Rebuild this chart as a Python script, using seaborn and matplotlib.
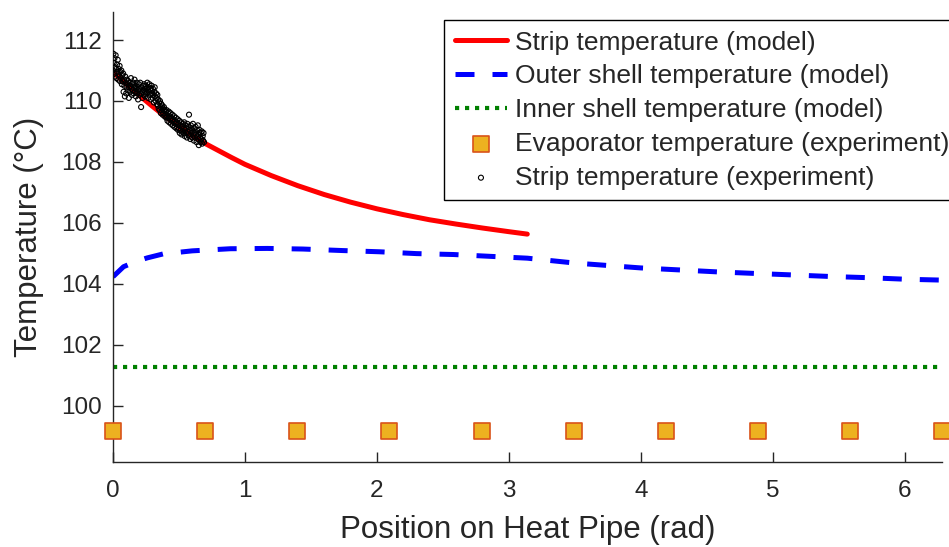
import seaborn as sns
import matplotlib.pyplot as plt

# model curves
strip_x = [0.0, 0.1, 0.2, 0.3, 0.4, 0.5, 0.6, 0.7, 0.8, 0.9, 1.0, 1.2, 1.4, 1.6,
           1.8, 2.0, 2.2, 2.4, 2.6, 2.8, 3.0, 3.14]
strip_y = [110.95, 110.56, 110.18, 109.82, 109.48, 109.16, 108.86, 108.60, 108.37,
           108.14, 107.92, 107.55, 107.22, 106.93, 106.68, 106.46, 106.27, 106.10,
           105.96, 105.83, 105.71, 105.63]

outer_x = [0.0, 0.08, 0.18, 0.26, 0.38, 0.6, 0.89, 1.17, 1.44, 1.74, 2.02, 2.30,
           2.58, 2.86, 3.14, 3.5, 4.0, 4.58, 4.86, 5.15, 5.43, 5.72, 6.0, 6.283]
outer_y = [104.23, 104.56, 104.74, 104.85, 104.98, 105.08, 105.15, 105.16, 105.14,
           105.09, 105.05, 104.99, 104.96, 104.90, 104.84, 104.68, 104.52, 104.39,
           104.34, 104.29, 104.24, 104.20, 104.15, 104.12]

inner_x = [0.0, 6.283]
inner_y = [101.28, 101.28]

# experiments
evap_x = [0.0, 0.698, 1.396, 2.094, 2.793, 3.491, 4.189, 4.887, 5.585, 6.283]
evap_y = [99.18, 99.18, 99.18, 99.18, 99.18, 99.18, 99.18, 99.18, 99.18, 99.18]

exp_x = [
    0.000, 0.003, 0.006, 0.008, 0.011, 0.014, 0.017, 0.020, 0.023, 0.026, 0.030, 0.033,
    0.036, 0.040, 0.043, 0.046, 0.050, 0.053, 0.056, 0.060, 0.063, 0.067, 0.070, 0.073,
    0.077, 0.080,
    0.083, 0.086, 0.090, 0.093, 0.096, 0.100, 0.103, 0.106, 0.110, 0.113, 0.116, 0.120,
    0.123, 0.126, 0.130, 0.133, 0.136, 0.140, 0.143, 0.146, 0.150, 0.153, 0.156, 0.160,
    0.163, 0.166, 0.170, 0.173, 0.176, 0.180, 0.183, 0.186, 0.190, 0.193, 0.196, 0.200,
    0.203, 0.206, 0.210, 0.213, 0.216, 0.220, 0.223, 0.226, 0.230, 0.233, 0.236, 0.240,
    0.243, 0.246, 0.250, 0.253, 0.256, 0.260, 0.263, 0.266, 0.270, 0.273, 0.276, 0.280,
    0.283, 0.286, 0.290, 0.293, 0.296, 0.300, 0.303, 0.306, 0.310, 0.313, 0.316, 0.320,
    0.323, 0.326,
    0.330, 0.333, 0.336, 0.340, 0.343, 0.346, 0.350, 0.353, 0.356, 0.360, 0.363, 0.366,
    0.370, 0.373, 0.376, 0.380, 0.383, 0.386, 0.390, 0.393, 0.396, 0.400, 0.403, 0.406,
    0.410, 0.413, 0.416, 0.420, 0.423, 0.426, 0.430, 0.433, 0.436, 0.440, 0.443, 0.446,
    0.450, 0.453, 0.456, 0.460, 0.463, 0.466, 0.470, 0.473, 0.476, 0.480,
    0.483, 0.486, 0.490, 0.493, 0.496, 0.500, 0.503, 0.506, 0.510, 0.513, 0.516, 0.520,
    0.523, 0.526, 0.530, 0.533, 0.536, 0.540, 0.543, 0.546, 0.550, 0.553, 0.556, 0.560,
    0.563, 0.566, 0.570, 0.573, 0.576, 0.580,
    0.583, 0.586, 0.590, 0.593, 0.596, 0.600, 0.603, 0.606, 0.610, 0.613, 0.616, 0.620,
    0.623, 0.626, 0.630, 0.633, 0.636, 0.640, 0.643, 0.646, 0.650, 0.653, 0.656, 0.660,
    0.663, 0.666, 0.670, 0.673, 0.676, 0.680, 0.683, 0.686, 0.690,
]
exp_y = [
    111.00, 111.55, 111.25, 110.90, 111.40, 111.10, 110.80, 111.50, 111.05, 110.75, 111.20, 110.95,
    111.35, 110.70, 111.05, 110.85, 111.15, 110.65, 110.95, 110.75, 111.00, 110.55, 110.85, 110.65,
    110.90, 110.30,
    110.70, 110.50, 110.15, 110.80, 110.60, 110.25, 110.45, 110.70, 110.55, 110.35, 110.65, 110.10,
    110.45, 110.60, 110.30, 110.50, 110.75, 110.40, 110.20, 110.55, 110.35, 110.60, 110.25, 110.45,
    110.70, 110.30, 110.50, 110.15, 110.40, 110.60, 110.25, 110.45, 110.05, 110.35, 110.55, 110.20,
    110.40, 110.60, 110.25, 109.80, 110.45, 110.30, 110.10, 110.50, 110.35, 110.20, 110.55, 110.40,
    110.15, 110.30, 110.50, 110.25, 110.40, 110.60, 110.35, 110.10, 110.45, 110.30, 110.55, 110.20,
    110.40, 110.05, 110.35, 110.50, 110.25, 110.10, 110.40, 110.20, 109.95, 110.30, 110.45, 110.15,
    110.00, 110.25,
    110.10, 109.90, 110.20, 109.85, 110.05, 109.75, 109.95, 109.70, 110.00, 109.80, 109.60, 109.90,
    109.70, 109.85, 109.55, 109.75, 109.60, 109.80, 109.50, 109.70, 109.55, 109.65, 109.45, 109.70,
    109.50, 109.35, 109.60, 109.45, 109.65, 109.30, 109.50, 109.40, 109.60, 109.25, 109.45, 109.35,
    109.55, 109.20, 109.40, 109.30, 109.50, 109.15, 109.35, 109.25, 109.45, 109.10,
    109.30, 109.15, 109.40, 109.05, 109.25, 109.10, 109.35, 108.95, 109.20, 109.05, 109.30, 108.90,
    109.15, 109.00, 109.25, 108.95, 109.10, 109.30, 108.85, 109.05, 109.20, 108.95, 109.10, 108.80,
    109.25, 109.00, 108.90, 109.15, 109.55, 108.85,
    109.05, 108.75, 109.20, 108.95, 109.10, 108.80, 109.00, 109.25, 108.90, 108.70, 109.10, 108.95,
    108.80, 109.15, 108.90, 108.65, 109.05, 108.85, 109.20, 108.75, 108.55, 108.95, 109.05, 108.80,
    108.65, 108.95, 108.75, 109.00, 108.60, 108.85, 108.70, 108.95, 108.65,
]

sns.set_style("ticks")
plt.rcParams['font.family'] = ['Liberation Sans', 'DejaVu Sans']

fig = plt.figure(figsize=(9.49, 5.47), dpi=100)
ax = fig.add_axes([113 / 949, 1 - 462 / 547, (942 - 113) / 949, (462 - 12) / 547])

sns.lineplot(x=strip_x, y=strip_y, color='#FF0000', linewidth=3.6,
             label='Strip temperature (model)', ax=ax)
sns.lineplot(x=outer_x, y=outer_y, color='#0000FF', linewidth=3.6,
             linestyle=(0, (3.8, 3.6)), label='Outer shell temperature (model)', ax=ax)
sns.lineplot(x=inner_x, y=inner_y, color='#008000', linewidth=3.0,
             linestyle=(0, (1.0, 1.4)), label='Inner shell temperature (model)', ax=ax)
sns.scatterplot(x=evap_x, y=evap_y, marker='s', s=135, color='#EDB120',
                edgecolor='#D95319', linewidth=1.2, clip_on=False, zorder=5,
                label='Evaporator temperature (experiment)', ax=ax)
sns.scatterplot(x=exp_x, y=exp_y, marker='o', s=13, facecolors='none',
                edgecolor='black', linewidth=0.8, zorder=6,
                label='Strip temperature (experiment)', ax=ax)

ax.set_xlim(0, 6.2832)
ax.set_ylim(98.15, 112.92)
ax.set_xticks(range(0, 7))
ax.set_yticks(range(100, 113, 2))
sns.despine(ax=ax)
for s in ['left', 'bottom']:
    ax.spines[s].set_color('#262626')
    ax.spines[s].set_linewidth(1.0)
ax.tick_params(direction='in', length=7, width=1, labelsize=17.5, colors='#262626')
ax.tick_params(axis='x', pad=13)
ax.tick_params(axis='y', pad=8)

ax.set_xlabel('Position on Heat Pipe (rad)', fontsize=22.5, color='#262626', labelpad=9)
ax.set_ylabel('Temperature (°C)', fontsize=22.5, color='#262626', labelpad=12)

handles, labels = ax.get_legend_handles_labels()
leg = ax.legend(handles, labels, loc='upper left',
                bbox_to_anchor=(444 / 949, 1 - 20 / 547), bbox_transform=fig.transFigure,
                frameon=True, fancybox=False, framealpha=1, edgecolor='black',
                fontsize=19, handlelength=2.0, handletextpad=0.3,
                labelspacing=0.37, borderpad=0.4, borderaxespad=0)
leg.get_frame().set_linewidth(1.0)

fig.savefig('out.png', dpi=100)
